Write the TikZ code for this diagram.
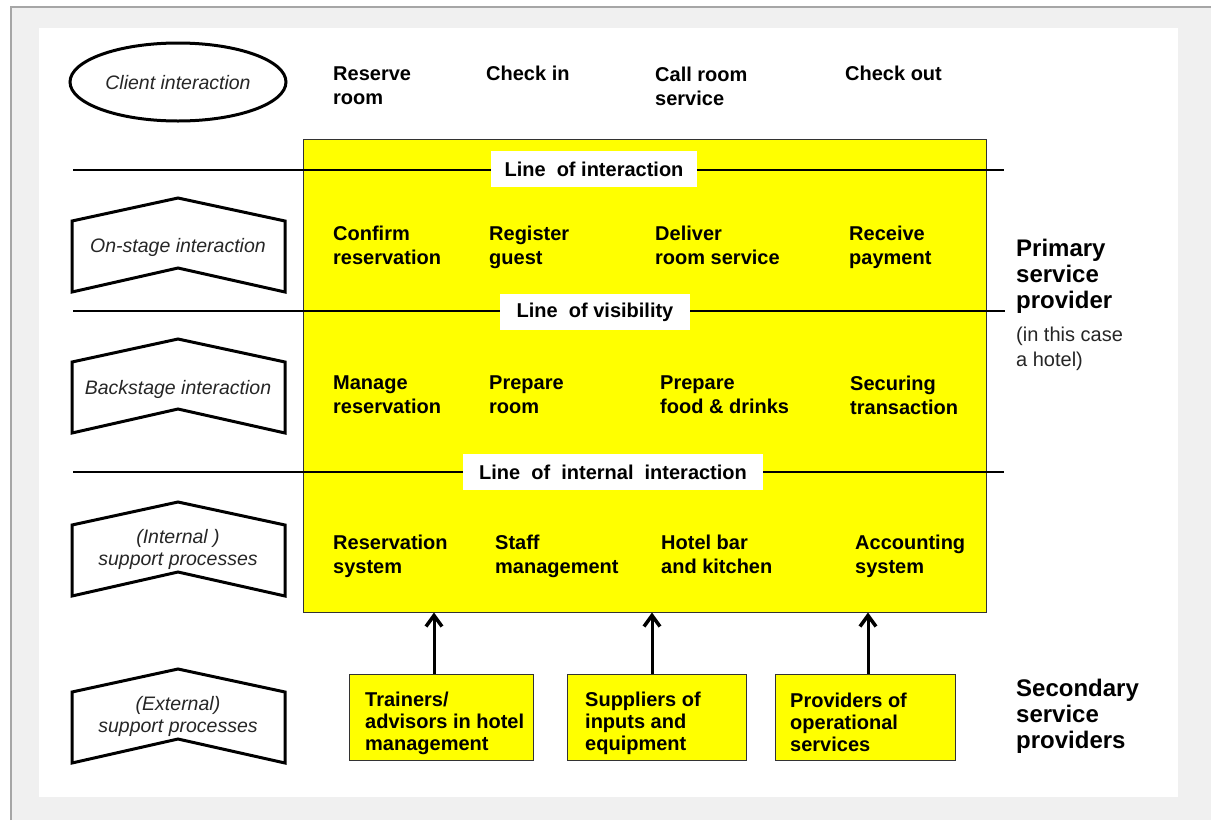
\documentclass[tikz,border=0pt]{standalone}
\usepackage{fontspec}
\setmainfont{Liberation Sans}
\usetikzlibrary{shapes.geometric,arrows.meta}
\definecolor{bggrey}{HTML}{F0F0F0}
\definecolor{framegrey}{HTML}{A6A6A6}
\definecolor{ylw}{HTML}{FFFF00}
\definecolor{txtgrey}{HTML}{262626}
\begin{document}
\begin{tikzpicture}[x=1pt,y=-1pt,
  boldtxt/.style={font=\fontsize{20}{24}\selectfont\bfseries, align=left, anchor=west, inner sep=0pt,
    execute at begin node=\strut, execute at end node=\strut},
  boxtxt/.style={font=\fontsize{20}{22}\selectfont\bfseries, align=left, anchor=west, inner sep=0pt},
  italtxt/.style={font=\fontsize{19.5}{22}\selectfont\itshape, text=txtgrey, align=center, inner sep=0pt},
  linelabel/.style={fill=white, font=\fontsize{20}{24}\selectfont\bfseries, inner sep=0pt, minimum height=36pt},
  sepline/.style={line width=2pt},
  chev/.style={line width=3pt, fill=white, line join=miter},
  ybox/.style={fill=ylw, draw=black!80, line width=1pt, inner sep=0pt},
  arr/.style={line width=3pt, -{Straight Barb[length=11pt,width=16pt,line width=3.5pt]}},
  bigtxt/.style={font=\fontsize{24}{26}\selectfont\bfseries, align=left, anchor=west, inner sep=0pt},
  notetxt/.style={font=\fontsize{20}{25}\selectfont, text=txtgrey, align=left, anchor=west, inner sep=0pt},
]
\useasboundingbox (0,0) rectangle (1211,820);
\fill[white] (0,0) rectangle (1211,820);
\fill[bggrey] (11,7) rectangle (1211,820);
\draw[framegrey, line width=2pt] (11,820) -- (11,7) -- (1211,7);
\fill[white] (39,28) rectangle (1178,797);

% client interaction
\node[ellipse, draw, line width=3pt, minimum width=216pt, minimum height=78pt, inner sep=0pt] (ci) at (178,82) {};
\node[italtxt] (cit) at (178,83) {Client interaction};

% chevrons
\foreach \t/\nm in {198/on,339/back,502/int,669/ext}{
  \draw[chev] (72,{\t+23}) -- (178,\t) -- (285,{\t+23}) -- (285,{\t+94}) -- (178,{\t+70}) -- (72,{\t+94}) -- cycle;
}
\node[italtxt] (onl) at (178,247) {On-stage interaction};
\node[italtxt] (backl) at (178,389) {Backstage interaction};
\node[italtxt] (intl) at (178,549) {(Internal )\\support processes};
\node[italtxt] (extl) at (178,716) {(External)\\support processes};

% top row
\node[boldtxt] (t1) at (333,89.5) {Reserve\\room};
\node[boldtxt] (t2) at (486,75.5) {Check in};
\node[boldtxt] (t3) at (655,89.5) {Call room\\service};
\node[boldtxt] (t4) at (845,75.5) {Check out};

% main yellow box
\node[ybox, minimum width=683pt, minimum height=473pt] (main) at (644.5,375.5) {};

% separating lines
\draw[sepline] (73,170) -- (1004,170);
\draw[sepline] (73,311) -- (1005,311);
\draw[sepline] (73,472) -- (1004,472);
\node[linelabel, minimum width=206pt] (loi) at (594,169) {Line~ of interaction};
\node[linelabel, minimum width=190pt] (lov) at (595,312) {Line~ of visibility};
\node[linelabel, minimum width=300pt] (lii) at (613,472) {Line~ of~ internal~ interaction};

% row 1
\node[boldtxt] (r11) at (333,248.5) {Confirm\\reservation};
\node[boldtxt] (r12) at (489,248.5) {Register\\guest};
\node[boldtxt] (r13) at (655,248.5) {Deliver\\room service};
\node[boldtxt] (r14) at (849,248.5) {Receive\\payment};
% row 2
\node[boldtxt] (r21) at (333,398.5) {Manage\\reservation};
\node[boldtxt] (r22) at (489,398.5) {Prepare\\room};
\node[boldtxt] (r23) at (660,398.5) {Prepare\\food \& drinks};
\node[boldtxt] (r24) at (850,398.5) {Securing\\transaction};
% row 3
\node[boldtxt] (r31) at (333,557.5) {Reservation\\system};
\node[boldtxt] (r32) at (495,557.5) {Staff\\management};
\node[boldtxt] (r33) at (661,557.5) {Hotel bar\\and kitchen};
\node[boldtxt] (r34) at (855,557.5) {Accounting\\system};

% right labels
\node[bigtxt] (prim) at (1016,276) {Primary\\service\\provider};
\node[notetxt] (note) at (1016,349) {(in this case\\a hotel)};
\node[bigtxt] (sec) at (1016,716) {Secondary\\service\\providers};

% bottom boxes
\node[ybox, minimum width=184pt, minimum height=86pt] (b1) at (441,717) {};
\node[ybox, minimum width=179pt, minimum height=86pt] (b2) at (656.5,717) {};
\node[ybox, minimum width=180pt, minimum height=86pt] (b3) at (865,717) {};
\node[boxtxt] (b1t) at (365,723) {Trainers/\\advisors in hotel\\management};
\node[boxtxt] (b2t) at (585,723) {Suppliers of\\inputs and\\equipment};
\node[boxtxt] (b3t) at (790,722) {Providers of\\operational\\services};

% arrows
\coordinate (a1) at (434,0);
\coordinate (a2) at (652,0);
\coordinate (a3) at (868,0);
\draw[arr] (b1.north -| a1) -- (main.south -| a1);
\draw[arr] (b2.north -| a2) -- (main.south -| a2);
\draw[arr] (b3.north -| a3) -- (main.south -| a3);
\end{tikzpicture}
\end{document}
